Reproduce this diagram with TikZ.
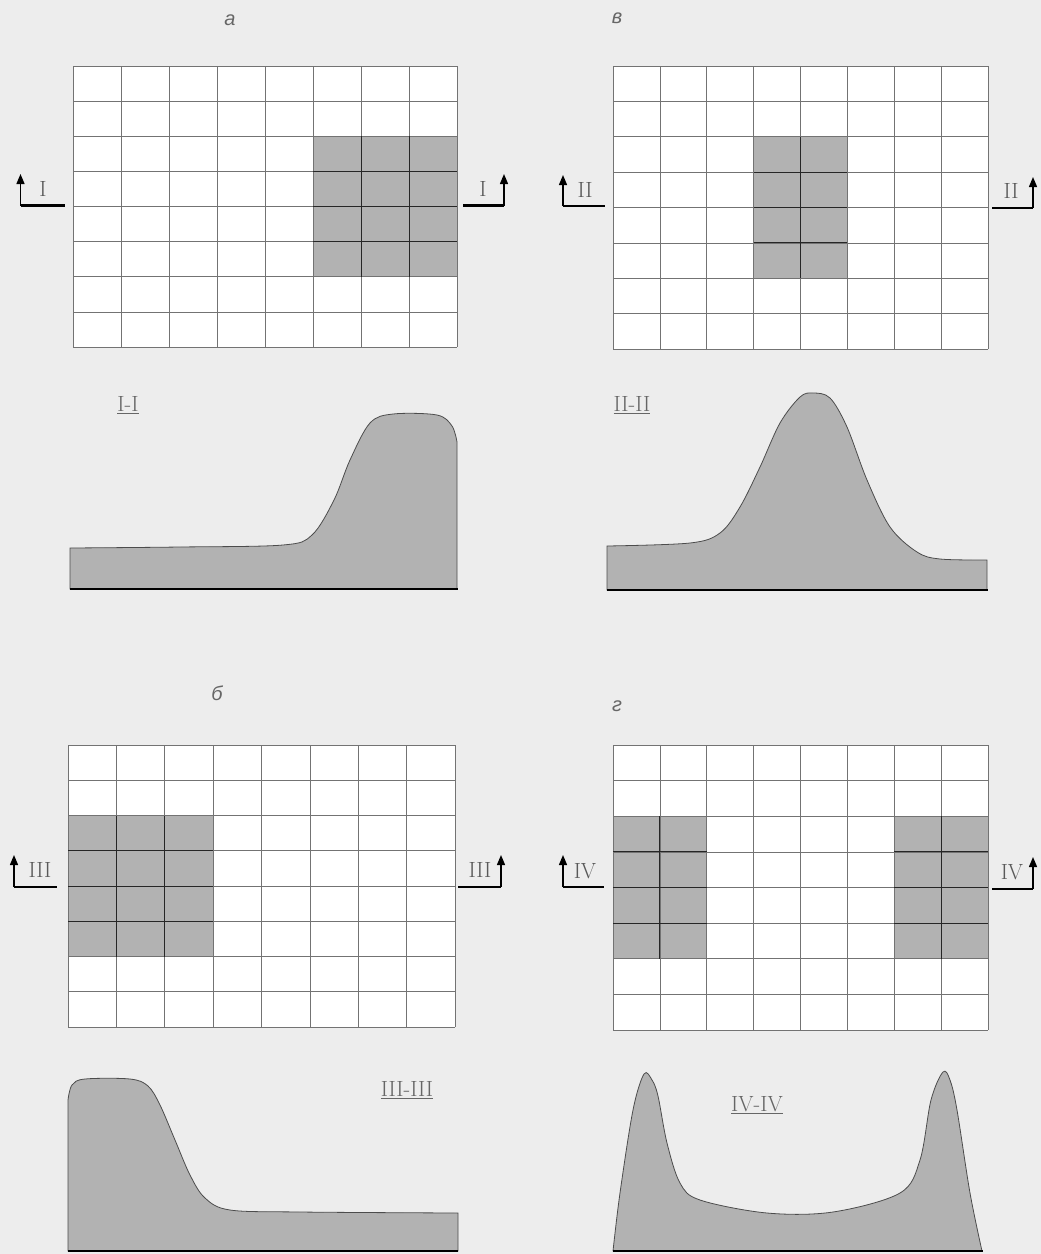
\documentclass[tikz,border=0pt]{standalone}
\usepackage{fontspec}
\newfontfamily\cyrfont{Liberation Sans}
\usetikzlibrary{arrows.meta}
\begin{document}
\begin{tikzpicture}[x=1pt,y=-1pt,
  gridline/.style={draw=black!55,line width=0.7pt},
  darkline/.style={draw=black!85,line width=0.8pt},
  profile/.style={fill=black!30,draw=black!70,line width=0.8pt},
  basebar/.style={draw=black,line width=2.6pt},
  sectarrow/.style={draw=black,line width=1.4pt,-{Triangle[length=10pt,width=8pt]}},
  markbar/.style={draw=black,line width=2.6pt},
  roman/.style={text=black!65,font=\fontsize{22}{26}\selectfont,inner sep=0pt},
  letter/.style={text=black!60,font=\cyrfont\itshape\fontsize{20}{24}\selectfont,inner sep=0pt},
  sectlabel/.style={text=black!60,font=\fontsize{22}{26}\selectfont,inner sep=0pt}]
\useasboundingbox (0,0) rectangle (1041,1254);
\fill[black!7] (0,0) rectangle (1041,1254);

% ---------- panel a ----------
\begin{scope}[shift={(73,66)},xscale=48,yscale=35.125]
  \fill[white] (0,0) rectangle (8,8);
  \fill[black!30] (5,2) rectangle (8,6);
  \foreach \i in {0,...,8} {\draw[gridline] (\i,0) -- (\i,8); \draw[gridline] (0,\i) -- (8,\i);}
  \draw[darkline] (5,3) -- (8,3) (5,4) -- (8,4) (5,5) -- (8,5) (6,2) -- (6,6) (7,2) -- (7,6);
\end{scope}
% ---------- panel v ----------
\begin{scope}[shift={(613,66)},xscale=46.875,yscale=35.375]
  \fill[white] (0,0) rectangle (8,8);
  \fill[black!30] (3,2) rectangle (5,6);
  \foreach \i in {0,...,8} {\draw[gridline] (\i,0) -- (\i,8); \draw[gridline] (0,\i) -- (8,\i);}
  \draw[darkline] (3,3) -- (5,3) (3,4) -- (5,4) (3,5) -- (5,5) (4,2) -- (4,6);
\end{scope}
% ---------- panel b ----------
\begin{scope}[shift={(68,745)},xscale=48.375,yscale=35.25]
  \fill[white] (0,0) rectangle (8,8);
  \fill[black!30] (0,2) rectangle (3,6);
  \foreach \i in {0,...,8} {\draw[gridline] (\i,0) -- (\i,8); \draw[gridline] (0,\i) -- (8,\i);}
  \draw[darkline] (0,3) -- (3,3) (0,4) -- (3,4) (0,5) -- (3,5) (1,2) -- (1,6) (2,2) -- (2,6);
\end{scope}
% ---------- panel g ----------
\begin{scope}[shift={(613,745)},xscale=46.875,yscale=35.625]
  \fill[white] (0,0) rectangle (8,8);
  \fill[black!30] (0,2) rectangle (2,6);
  \fill[black!30] (6,2) rectangle (8,6);
  \foreach \i in {0,...,8} {\draw[gridline] (\i,0) -- (\i,8); \draw[gridline] (0,\i) -- (8,\i);}
  \draw[darkline] (0,3) -- (2,3) (0,4) -- (2,4) (0,5) -- (2,5) (1,2) -- (1,6);
  \draw[darkline] (6,3) -- (8,3) (6,4) -- (8,4) (6,5) -- (8,5) (7,2) -- (7,6);
\end{scope}

% ---------- letters ----------
\node[letter] (la) at (230,20) {а};
\node[letter] (lv) at (617,18) {в};
\node[letter] (lb) at (217,693) {б};
\node[letter] (lg) at (617,706) {г};

% ---------- section markers ----------
% a
\coordinate (a1) at (20.5,205.5); \coordinate (a1e) at (65,205.5); \coordinate (a1t) at (20.5,174);
\draw[markbar] (a1) -- (a1e); \draw[sectarrow] (a1) -- (a1t);
\node[roman] (ra1) at (43,189) {I};
\coordinate (a2) at (504,205.5); \coordinate (a2s) at (463,205.5); \coordinate (a2t) at (504,174);
\draw[markbar] (a2s) -- (a2); \draw[sectarrow] (a2) -- (a2t);
\node[roman] (ra2) at (483,189) {I};
% v
\coordinate (v1) at (563,206); \coordinate (v1e) at (605,206); \coordinate (v1t) at (563,175);
\draw[markbar] (v1) -- (v1e); \draw[sectarrow] (v1) -- (v1t);
\node[roman] (rv1) at (585,190) {II};
\coordinate (v2) at (1033,208); \coordinate (v2s) at (992,208); \coordinate (v2t) at (1033,177);
\draw[markbar] (v2s) -- (v2); \draw[sectarrow] (v2) -- (v2t);
\node[roman] (rv2) at (1011,191) {II};
% b
\coordinate (b1) at (14,887); \coordinate (b1e) at (57,887); \coordinate (b1t) at (14,855);
\draw[markbar] (b1) -- (b1e); \draw[sectarrow] (b1) -- (b1t);
\node[roman] (rb1) at (40,870) {III};
\coordinate (b2) at (501,887); \coordinate (b2s) at (458,887); \coordinate (b2t) at (501,855);
\draw[markbar] (b2s) -- (b2); \draw[sectarrow] (b2) -- (b2t);
\node[roman] (rb2) at (480,870) {III};
% g
\coordinate (g1) at (563,887); \coordinate (g1e) at (604,887); \coordinate (g1t) at (563,855);
\draw[markbar] (g1) -- (g1e); \draw[sectarrow] (g1) -- (g1t);
\node[roman] (rg1) at (585,871) {IV};
\coordinate (g2) at (1033,889); \coordinate (g2s) at (992,889); \coordinate (g2t) at (1033,857);
\draw[markbar] (g2s) -- (g2); \draw[sectarrow] (g2) -- (g2t);
\node[roman] (rg2) at (1012,872) {IV};

% ---------- profiles ----------
% I-I
\draw[profile] (70,589) --
  plot[smooth,tension=0.55] coordinates {(70,548) (180,547) (283,545) (312,535) (334,500) (350,460) (370,423) (393,414) (437,415) (452,426) (457,442)}
  -- (457,589) -- cycle;
\draw[basebar] (70,589) -- (458,589);
\node[sectlabel] (s1) at (128,405) {\underline{I-I}};
% II-II
\draw[profile] (607,590) --
  plot[smooth,tension=0.55] coordinates {(607,546) (690,543) (720,533) (740,507) (760,467) (780,423) (800,397) (813,393) (830,398) (847,427) (867,480) (890,527) (917,552) (940,559) (987,560)}
  -- (987,590) -- cycle;
\draw[basebar] (607,590) -- (988,590);
\node[sectlabel] (s2) at (632,405) {\underline{II-II}};
% III-III
\draw[profile] (68,1251) --
  plot[smooth,tension=0.55] coordinates {(68,1100) (72,1085) (85,1079) (130,1079) (148,1086) (160,1105) (175,1140) (190,1175) (205,1198) (230,1210) (300,1212) (458,1213)}
  -- (458,1251) -- cycle;
\draw[basebar] (68,1251) -- (458,1251);
\node[sectlabel] (s3) at (407,1090) {\underline{III-III}};
% IV-IV
\draw[profile]
  plot[smooth,tension=0.55] coordinates {(613,1251) (620,1193) (633,1110) (644,1074) (652,1080) (658,1096) (667,1143) (680,1183) (700,1200) (767,1213) (833,1212) (900,1193) (920,1160) (931,1100) (943,1072) (950,1080) (957,1110) (970,1193) (982,1251)}
  -- cycle;
\draw[basebar] (613,1251) -- (983,1251);
\node[sectlabel] (s4) at (757,1105) {\underline{IV-IV}};
\end{tikzpicture}
\end{document}
